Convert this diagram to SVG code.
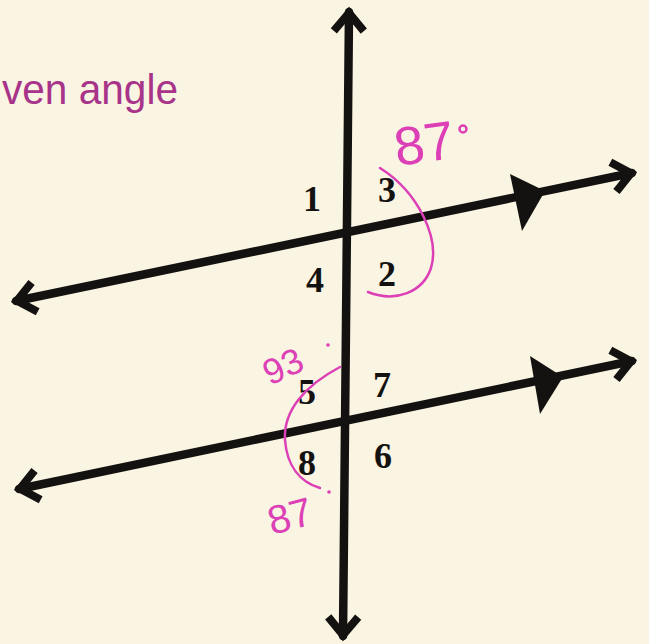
<svg xmlns="http://www.w3.org/2000/svg" width="649" height="644" viewBox="0 0 649 644">
<defs>
<style>
.ln{stroke:#141210;stroke-width:8.5;fill:none;stroke-linecap:round}
.num{font-family:"Liberation Serif","Times New Roman",serif;font-weight:bold;font-size:36px;fill:#141210;text-anchor:middle}
.pen{font-family:"Liberation Sans","DejaVu Sans",sans-serif;fill:#dc3fb6}
.arc{stroke:#dc3fb6;stroke-width:2.5;fill:none;stroke-linecap:round}
.tri{fill:#141210}
</style>
<marker id="chev" markerUnits="userSpaceOnUse" markerWidth="40" markerHeight="40" viewBox="-30 -20 40 40" refX="0" refY="0" orient="auto-start-reverse">
<path d="M-19,-15 L-1,0 L-19,15" fill="none" stroke="#141210" stroke-width="8" stroke-linejoin="miter"/>
</marker>
</defs>
<rect width="649" height="644" fill="#faf4e2"/>
<text x="2" y="104" class="pen" font-size="42" style="fill:#a8348a" textLength="176" lengthAdjust="spacingAndGlyphs">ven angle</text>
<g id="connectors">
<line id="transversal" class="ln" x1="349" y1="12" x2="343" y2="636" marker-start="url(#chev)" marker-end="url(#chev)"/>
<line id="line-upper" class="ln" x1="16" y1="301" x2="632" y2="173" marker-start="url(#chev)" marker-end="url(#chev)"/>
<line id="line-lower" class="ln" x1="19" y1="489" x2="632" y2="361" marker-start="url(#chev)" marker-end="url(#chev)"/>
<polygon class="tri" points="510,174 522,231 545,191"/>
<polygon class="tri" points="530,356 540,414 563,377"/>
</g>
<g id="angles-top">
<text class="num" x="312" y="211">1</text>
<text class="num" x="387" y="202">3</text>
<text class="num" x="315" y="292">4</text>
<text class="num" x="387" y="286">2</text>
</g>
<g id="angles-bottom">
<text class="num" x="307" y="404">5</text>
<text class="num" x="382" y="397">7</text>
<text class="num" x="307" y="475">8</text>
<text class="num" x="383" y="468">6</text>
</g>
<g id="annotation-top">
<path class="arc" d="M380,168 C418,192 440,238 431,268 C423,292 396,303 368,292"/>
<text class="pen" x="397" y="166" font-size="54" transform="rotate(-8 397 166)">87</text>
<circle cx="463" cy="129" r="3.5" fill="none" stroke="#dc3fb6" stroke-width="2.5"/>
</g>
<g id="annotation-bottom">
<path class="arc" d="M340,367 C306,385 283,410 285,440 C287,466 300,482 320,488"/>
<text class="pen" x="270" y="386" font-size="36" transform="rotate(-25 270 386)">93</text>
<circle cx="328" cy="345" r="1.8" fill="#dc3fb6"/>
<text class="pen" x="272" y="535" font-size="40" transform="rotate(-15 272 535)">87</text>
<circle cx="329" cy="492" r="1.8" fill="#dc3fb6"/>
</g>
</svg>
